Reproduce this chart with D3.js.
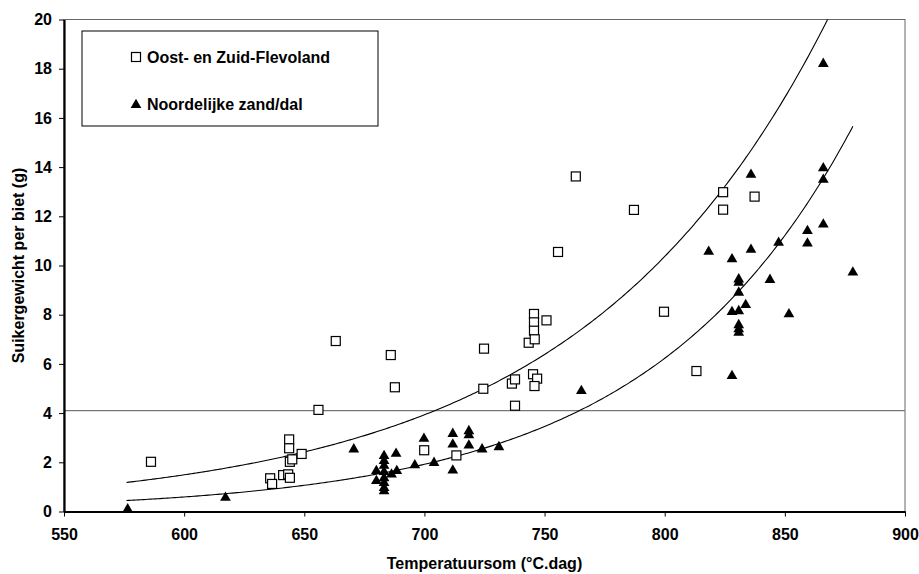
<!DOCTYPE html>
<html>
<head>
<meta charset="utf-8">
<script src="https://cdn.jsdelivr.net/npm/d3@7"></script>
<style>
  body { margin: 0; background: #fff; }
  text { font-family: "Liberation Sans", Arial, sans-serif; font-weight: bold; }
  .axis path, .axis line { stroke: #000; }
</style>
</head>
<body>
<script>
// Oost- en Zuid-Flevoland (open squares)
var flevoTemp  = [586.2, 635.8, 636.6, 641.2, 643.3, 644.0, 643.7, 643.7, 644.0, 645.0, 648.9, 655.9, 663.1,
                  686.0, 687.7, 699.9, 713.3, 724.8, 724.5, 736.4, 737.7, 737.7, 743.4, 745.6, 745.6, 745.6,
                  745.9, 745.2, 746.9, 745.8, 750.8, 755.6, 763.0, 787.2, 799.7, 813.2, 824.3, 824.3, 837.4];
var flevoSugar = [2.02, 1.35, 1.12, 1.48, 1.51, 1.37, 2.93, 2.57, 2.02, 2.12, 2.34, 4.13, 6.93,
                  6.36, 5.05, 2.49, 2.28, 6.62, 4.99, 5.2, 5.37, 4.3, 6.86, 8.03, 7.69, 7.35,
                  7.0, 5.58, 5.4, 5.1, 7.77, 10.55, 13.62, 12.26, 8.12, 5.71, 12.98, 12.27, 12.8];

// Noordelijke zand/dal (filled triangles)
var noordTemp  = [576.5, 617.2, 670.6, 680.0, 680.0, 683.2, 683.2, 683.2, 683.2, 683.2, 683.2, 683.2, 683.2,
                  686.3, 688.2, 688.5, 696.0, 699.8, 704.0, 711.8, 711.8, 711.8, 718.5, 718.5, 718.5, 724.0,
                  731.0, 765.3, 818.3, 828.0, 828.0, 828.0, 830.8, 830.8, 830.8, 830.8, 830.8, 830.8, 830.8,
                  833.7, 835.9, 835.9, 843.8, 847.4, 851.7, 859.4, 859.4, 866.0, 866.0, 866.0, 866.0, 878.3];
var noordSugar = [0.13, 0.6, 2.57, 1.69, 1.28, 2.3, 2.1, 1.9, 1.65, 1.4, 1.2, 1.0, 0.87,
                  1.55, 2.39, 1.69, 1.92, 3.0, 2.02, 3.2, 2.77, 1.71, 3.31, 3.14, 2.73, 2.57,
                  2.66, 4.94, 10.6, 10.3, 8.15, 5.55, 9.48, 9.34, 8.94, 8.19, 7.62, 7.45, 7.31,
                  8.44, 13.73, 10.68, 9.46, 10.97, 8.06, 11.45, 10.94, 18.24, 14.0, 13.53, 11.71, 9.76];

// exponential trendlines y = a * e^(b * x)
var trendFlevo = {a: 0.004435, b: 0.009696};
var trendNoord = {a: 0.000505, b: 0.011775};
var trendRange = [576, 878.3];
var refLevel = 4.1;

var xTicks = [550, 600, 650, 700, 750, 800, 850, 900];
var yTicks = [0, 2, 4, 6, 8, 10, 12, 14, 16, 18, 20];

var W = 919, H = 574;
var margin = {top: 19.5, right: 14, bottom: 62.5, left: 64},
    width = W - margin.left - margin.right,
    height = H - margin.top - margin.bottom;

var x = d3.scaleLinear().domain([550, 900]).range([0, width]);
var y = d3.scaleLinear().domain([0, 20]).range([height, 0]);

var svg = d3.select("body").append("svg")
    .attr("width", W)
    .attr("height", H)
  .append("g")
    .attr("transform", "translate(" + margin.left + "," + margin.top + ")");

svg.append("clipPath").attr("id", "plot-clip")
  .append("rect").attr("width", width).attr("height", height);

// plot frame (top / right)
svg.append("rect")
    .attr("width", width).attr("height", height)
    .attr("fill", "none").attr("stroke", "#666").attr("stroke-width", 1);

// reference line
svg.append("line")
    .attr("x1", 0).attr("x2", width)
    .attr("y1", y(refLevel)).attr("y2", y(refLevel))
    .attr("stroke", "#777").attr("stroke-width", 1.2);

// trendlines
var line = d3.line().x(function(d) { return x(d[0]); }).y(function(d) { return y(d[1]); });
var temps = d3.range(trendRange[0], trendRange[1], 1).concat([trendRange[1]]);
[trendFlevo, trendNoord].forEach(function(t) {
  svg.append("path")
      .attr("clip-path", "url(#plot-clip)")
      .datum(temps.map(function(v) { return [v, t.a * Math.exp(t.b * v)]; }))
      .attr("fill", "none").attr("stroke", "#000").attr("stroke-width", 1.1)
      .attr("d", line);
});

// points
var flevo = flevoTemp.map(function(v, i) { return [v, flevoSugar[i]]; });
var noord = noordTemp.map(function(v, i) { return [v, noordSugar[i]]; });

svg.append("g").selectAll("rect")
    .data(flevo).enter().append("rect")
    .attr("x", function(d) { return x(d[0]) - 4.5; })
    .attr("y", function(d) { return y(d[1]) - 4.5; })
    .attr("width", 9).attr("height", 9)
    .attr("fill", "#fff").attr("stroke", "#000").attr("stroke-width", 1.2);

var tri = d3.symbol().type(d3.symbolTriangle).size(50);
svg.append("g").selectAll("path")
    .data(noord).enter().append("path")
    .attr("transform", function(d) { return "translate(" + x(d[0]) + "," + (y(d[1]) + 1) + ")"; })
    .attr("d", tri)
    .attr("fill", "#000");

// axes
var xAxis = d3.axisBottom(x).tickValues(xTicks).tickSize(5).tickSizeOuter(0).tickPadding(8);
var yAxis = d3.axisLeft(y).tickValues(yTicks).tickSize(5).tickSizeOuter(0).tickPadding(7);

var gx = svg.append("g").attr("class", "x axis")
    .attr("transform", "translate(0," + height + ")")
    .call(xAxis);
gx.select(".domain").attr("stroke-width", 2.2);
gx.selectAll("text").attr("font-size", "16px").attr("fill", "#000").attr("dy", "0.95em");

var gy = svg.append("g").attr("class", "y axis").call(yAxis);
gy.select(".domain").attr("stroke-width", 2.2);
gy.selectAll("text").attr("font-size", "16px").attr("fill", "#000");

svg.append("text")
    .attr("x", width / 2).attr("y", height + 57.5)
    .attr("text-anchor", "middle")
    .attr("font-size", "16px")
    .text("Temperatuursom (°C.dag)");

svg.append("text")
    .attr("transform", "translate(" + (18 - margin.left + 5.5) + "," + (height / 2) + ") rotate(-90)")
    .attr("text-anchor", "middle")
    .attr("font-size", "16px")
    .text("Suikergewicht per biet (g)");

// legend
var legend = svg.append("g").attr("transform", "translate(" + (82 - margin.left) + "," + (31 - margin.top) + ")");
legend.append("rect")
    .attr("width", 296).attr("height", 95)
    .attr("fill", "#fff").attr("stroke", "#000").attr("stroke-width", 1);
legend.append("rect")
    .attr("x", 54 - 4.5).attr("y", 26 - 4.5).attr("width", 9).attr("height", 9)
    .attr("fill", "#fff").attr("stroke", "#000").attr("stroke-width", 1.2);
legend.append("path")
    .attr("transform", "translate(54," + 74 + ")")
    .attr("d", tri).attr("fill", "#000");
legend.append("text").attr("x", 65).attr("y", 31.5).attr("font-size", "16px").text("Oost- en Zuid-Flevoland");
legend.append("text").attr("x", 65).attr("y", 78.5).attr("font-size", "16px").text("Noordelijke zand/dal");
</script>
</body>
</html>
